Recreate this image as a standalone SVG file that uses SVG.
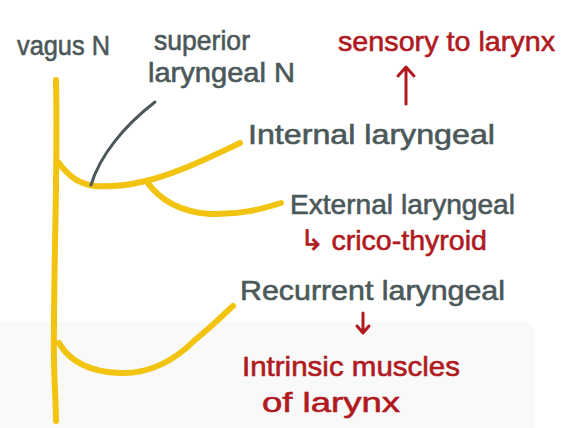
<svg xmlns="http://www.w3.org/2000/svg" width="573" height="428" viewBox="0 0 573 428">
<style>
.bg{fill:#f9f9f9}
.nerve{fill:none;stroke:#f2c40f;stroke-width:6;stroke-linecap:round;stroke-linejoin:round}
.lead{fill:none;stroke:#4b5859;stroke-width:3;stroke-linecap:round}
.arr{fill:none;stroke:#b01a1f;stroke-width:3;stroke-linecap:round;stroke-linejoin:round}
.g{font-family:"Liberation Sans",Arial,sans-serif;font-size:28px;fill:#4b5859;stroke:#4b5859;stroke-width:0.6}
.r{font-family:"Liberation Sans",Arial,sans-serif;font-size:28px;fill:#b01a1f;stroke:#b01a1f;stroke-width:0.6}
</style>
<rect width="573" height="428" fill="#ffffff"/>
<path class="bg" d="M0,322 H520 Q535,322 535,337 V428 H0 Z"/>
<g id="connectors">
<path class="nerve" d="M56,80 C58,160 54,250 54,330 C53,370 56,400 56,421"/>
<path class="nerve" d="M58,162 C70,178 80,184 95,186 C130,188 160,178 185,168 C205,160 225,150 240,143"/>
<path class="nerve" d="M147,182 C160,200 180,212 210,214 C240,215 262,209 281,203"/>
<path class="nerve" d="M59,343 C70,362 90,372 120,373 C150,374 175,360 195,340 C210,328 222,316 233,306"/>
<path class="lead" d="M155,102 C125,125 100,155 91,185"/>
<path class="arr" d="M406,104 V68 M398,76 L406,67 L414,76"/>
<path class="arr" d="M363,313 V332 M357,326 L363,333 L369,326"/>
</g>
<g id="vagus"><text class="g" x="17" y="55" textLength="93" lengthAdjust="spacingAndGlyphs">vagus N</text></g>
<g id="superior"><text class="g" x="154" y="50" textLength="96" lengthAdjust="spacingAndGlyphs">superior</text><text class="g" x="148" y="82" textLength="147" lengthAdjust="spacingAndGlyphs">laryngeal N</text></g>
<g id="sensory"><text class="r" x="338" y="51" textLength="217" lengthAdjust="spacingAndGlyphs">sensory to larynx</text></g>
<g id="internal"><text class="g" x="248" y="144" textLength="247" lengthAdjust="spacingAndGlyphs">Internal laryngeal</text></g>
<g id="external"><text class="g" x="290" y="214" textLength="225" lengthAdjust="spacingAndGlyphs">External laryngeal</text></g>
<g id="cricothyroid"><text class="r" x="300" y="250" textLength="187" lengthAdjust="spacingAndGlyphs">↳ crico-thyroid</text></g>
<g id="recurrent"><text class="g" x="240" y="300" textLength="265" lengthAdjust="spacingAndGlyphs">Recurrent laryngeal</text></g>
<g id="intrinsic"><text class="r" x="242" y="376" textLength="218" lengthAdjust="spacingAndGlyphs">Intrinsic muscles</text><text class="r" x="262" y="412" textLength="138" lengthAdjust="spacingAndGlyphs">of larynx</text></g>
</svg>
